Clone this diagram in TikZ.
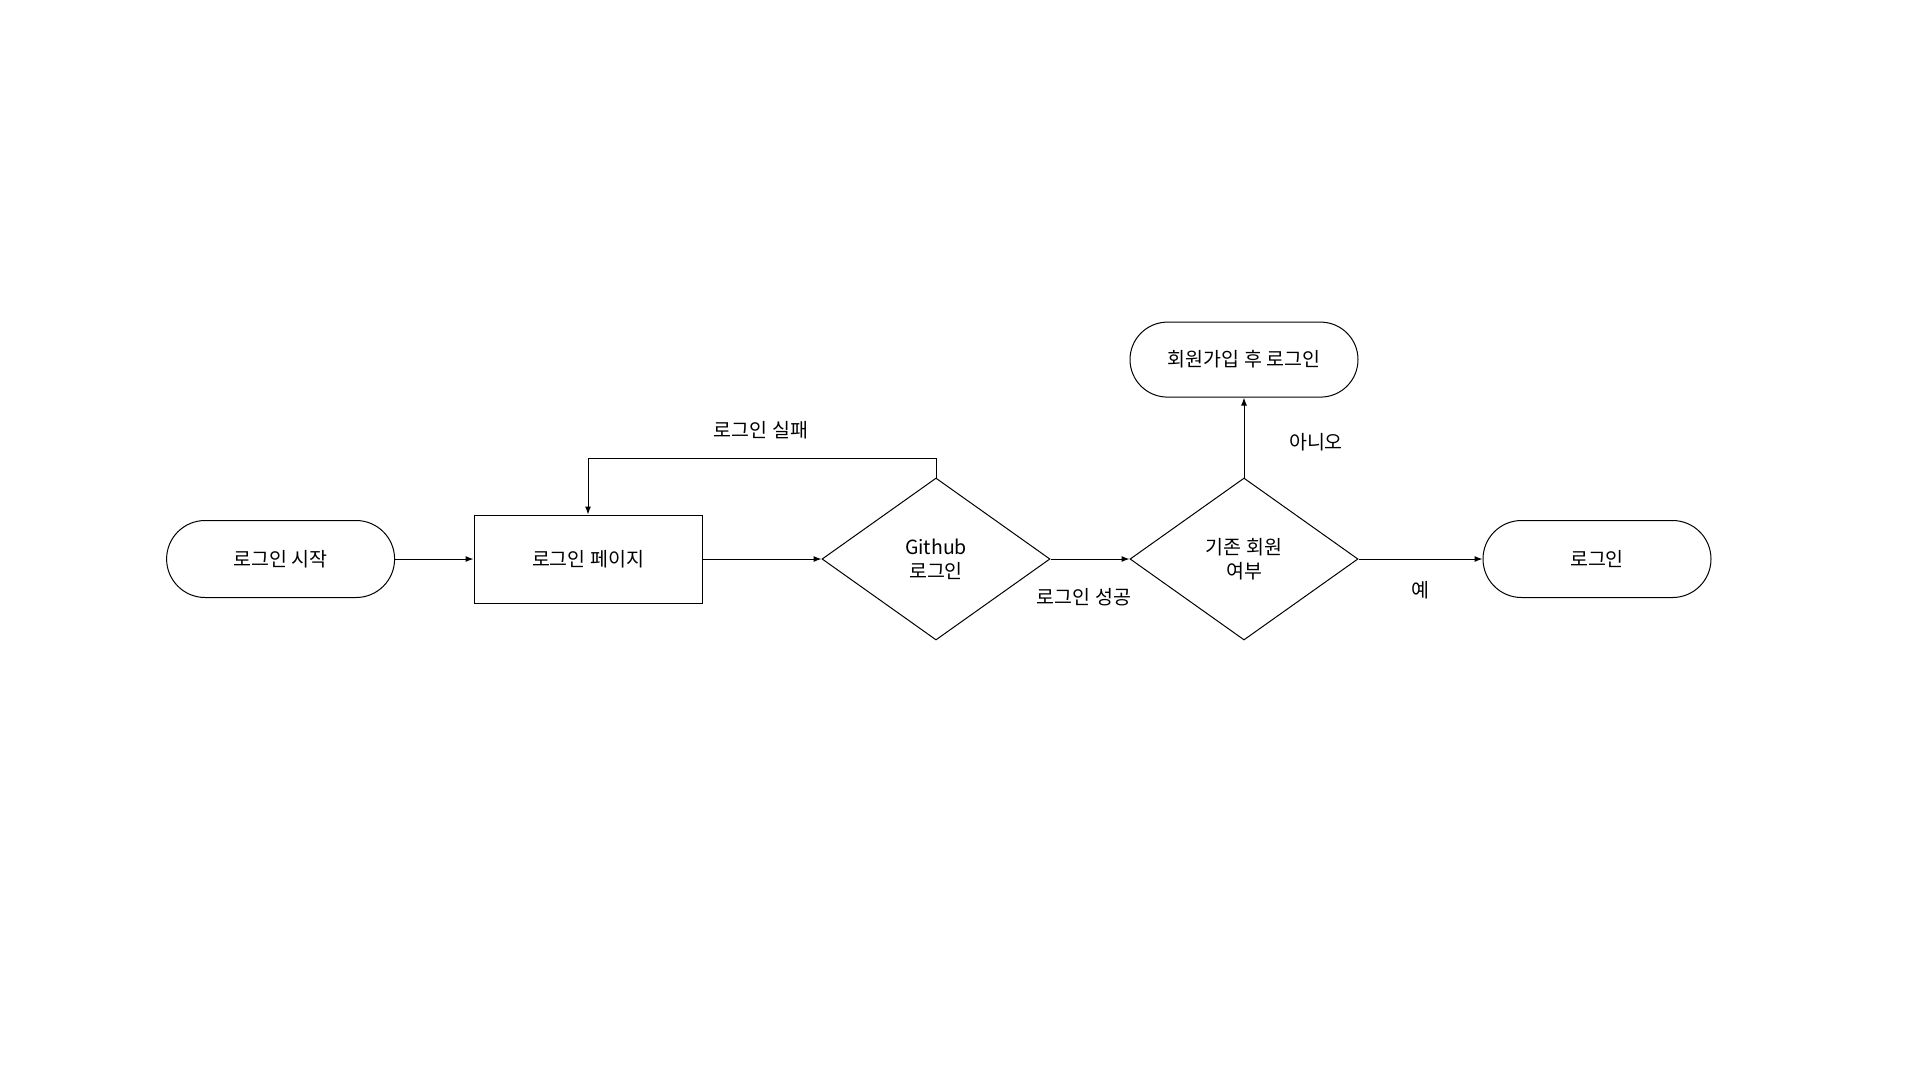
\documentclass[tikz,border=0pt]{standalone}
\usepackage{fontspec}
\setmainfont{Noto Sans CJK KR}
\usetikzlibrary{shapes.geometric,arrows.meta}
\begin{document}
\begin{tikzpicture}[x=1pt,y=-1pt,
  every node/.style={font=\fontsize{19.5}{24}\selectfont},
  terminal/.style={draw,line width=1pt,rounded corners=38.5pt,minimum width=228pt,minimum height=77pt,inner sep=0pt},
  procbox/.style={draw,line width=1pt,minimum width=228pt,minimum height=88pt,inner sep=0pt},
  decision/.style={draw,diamond,line width=1pt,minimum width=228pt,minimum height=162pt,inner sep=0pt,align=center},
  conn/.style={line width=1pt,-{Latex[length=8pt,width=6pt]}},
  lbl/.style={inner sep=0pt}]
\useasboundingbox (0,0) rectangle (1920,1080);
\node[terminal] (start) at (280.6,559) {로그인 시작};
\node[procbox] (page) at (588,559) {로그인 페이지};
\node[decision] (gh) at (936,559) {Github\\로그인};
\node[decision] (mem) at (1244,559) {기존 회원\\여부};
\node[terminal,minimum height=75pt,rounded corners=37.5pt] (signup) at (1244,359.6) {회원가입 후 로그인};
\node[terminal] (login) at (1597,559) {로그인};
\coordinate (fb) at (936,458.2);
\draw[conn] (start.east) -- (page.west);
\draw[conn] (page.east) -- (gh.west);
\draw[conn] (gh.east) -- (mem.west);
\draw[conn] (mem.east) -- (login.west);
\draw[conn] (mem.north) -- (signup.south);
\draw[conn] (gh.north) -- (fb) -| (page.north);
\node[lbl] (l1) at (761,430) {로그인 실패};
\node[lbl] (l2) at (1084,596.7) {로그인 성공};
\node[lbl] (l3) at (1316,442.3) {아니오};
\node[lbl] (l4) at (1420,590.5) {예};
\end{tikzpicture}
\end{document}
